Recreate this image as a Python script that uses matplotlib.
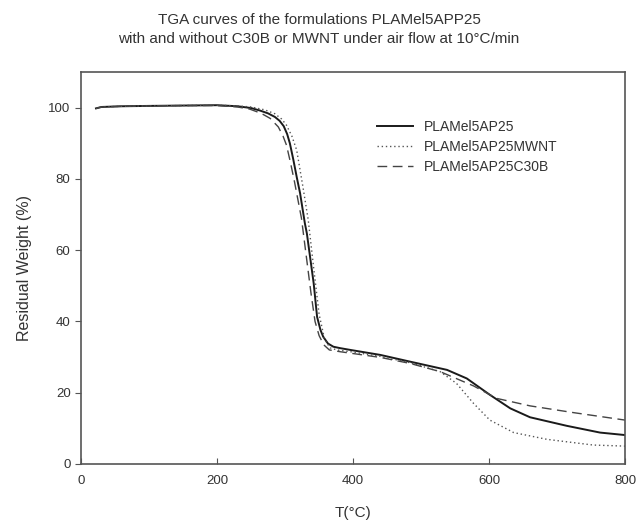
import matplotlib
matplotlib.use("Agg")
import matplotlib.pyplot as plt

plt.rcParams['font.family'] = ['Liberation Sans', 'DejaVu Sans']

# temperature (°C) / residual weight (%)
t_ref = [22, 30, 60, 100, 150, 200, 230, 250, 263, 275, 285, 292, 298, 303, 307, 312, 317,
         322, 329, 332, 342, 347, 352, 356, 363, 371, 381, 396, 440, 484, 538, 567, 601,
         631, 660, 714, 763, 800]
w_ref = [99.8, 100.2, 100.4, 100.5, 100.6, 100.7, 100.4, 99.9, 99.2, 98.4, 97.4, 96.3,
         94.8, 92.6, 90.0, 85.5, 80.6, 76.0, 67.6, 64.7, 50.7, 41.3, 37.6, 35.7, 33.8,
         32.9, 32.5, 32.0, 30.6, 28.7, 26.4, 24.0, 19.4, 15.6, 13.1, 10.7, 8.8, 8.1]

t_mwnt = [22, 30, 60, 100, 150, 200, 230, 250, 270, 285, 295, 302, 310, 317, 326, 334,
          342, 350, 358, 366, 376, 396, 440, 484, 528, 552, 577, 601, 636, 685, 753, 800]
w_mwnt = [99.8, 100.2, 100.4, 100.5, 100.6, 100.7, 100.5, 100.2, 99.4, 98.3, 96.8, 95.1,
          92.0, 88.1, 78.0, 68.5, 55.0, 42.0, 35.0, 32.6, 32.0, 31.5, 30.2, 28.4, 25.9,
          22.6, 17.0, 12.3, 8.8, 6.9, 5.3, 5.0]

t_c30b = [22, 30, 60, 100, 150, 200, 230, 248, 265, 278, 290, 297, 302, 308, 314, 324,
          330, 338, 344, 350, 357, 365, 381, 440, 484, 528, 577, 611, 660, 724, 800]
w_c30b = [99.8, 100.2, 100.4, 100.5, 100.6, 100.6, 100.2, 99.6, 98.4, 97.0, 94.6, 92.0,
          89.5, 84.5, 79.0, 69.0, 60.0, 48.0, 40.0, 36.0, 33.4, 32.0, 31.5, 29.9, 28.2,
          25.9, 21.9, 18.4, 16.3, 14.4, 12.3]

labels = ['PLAMel5AP25', 'PLAMel5AP25MWNT', 'PLAMel5AP25C30B']
x_ticks = [0, 200, 400, 600, 800]
y_ticks = [0, 20, 40, 60, 80, 100]

fig = plt.figure(figsize=(6.38, 5.26), dpi=100)
ax = fig.add_axes([0.127, 0.118, 0.853, 0.745])

ax.plot(t_ref, w_ref, color='#1a1a1a', lw=1.4, ls='-', label=labels[0])
ax.plot(t_mwnt, w_mwnt, color='#555555', lw=1.0, ls=(0, (1, 2)), label=labels[1])
ax.plot(t_c30b, w_c30b, color='#444444', lw=1.0, ls=(0, (7, 4)), label=labels[2])

ax.set_xlim(0, 800)
ax.set_ylim(0, 110)
ax.set_xticks(x_ticks)
ax.set_yticks(y_ticks)
ax.tick_params(direction='out', length=4, color='#555555', labelcolor='#333333', labelsize=9.5)
ax.tick_params(axis='x', direction='in', pad=8)
for s in ax.spines.values():
    s.set_color('#555555')
    s.set_linewidth(1.2)

ax.set_xlabel('T(°C)', fontsize=11, color='#333333', labelpad=14)
ax.set_ylabel('Residual Weight (%)', fontsize=11.5, color='#333333', labelpad=12)
fig.text(0.5, 0.962, 'TGA curves of the formulations PLAMel5APP25',
         ha='center', va='center', fontsize=11, color='#333333')
fig.text(0.5, 0.925, 'with and without C30B or MWNT under air flow at 10°C/min',
         ha='center', va='center', fontsize=11, color='#333333')

leg = ax.legend(loc='upper left', bbox_to_anchor=(0.52, 0.91), frameon=False,
                fontsize=10, handlelength=2.6, labelspacing=0.45, handletextpad=0.8)
for txt in leg.get_texts():
    txt.set_color('#333333')

fig.savefig('out.png', dpi=100)
